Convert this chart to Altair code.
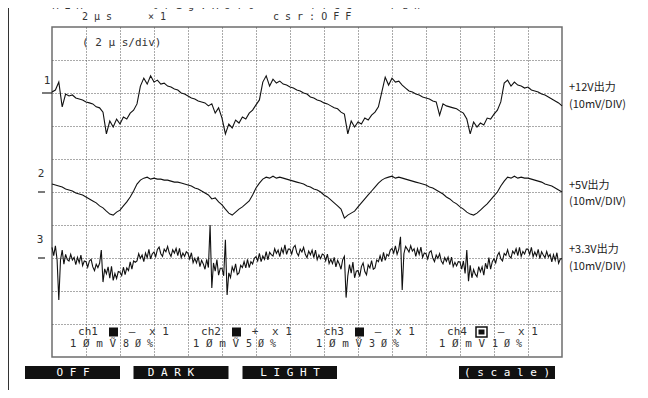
import altair as alt
import pandas as pd

# ---------------- data ----------------
MV_PER_DIV = 10              # 10 mV/DIV on every channel
CH_NAMES = ["1", "2", "3"]
CH_POS_PCT = [80, 50, 30]    # ground-marker position, % of screen height
CH_SAMPLE_US = [0.2, 0.2, 0.1]  # sample spacing of each stored trace (us)

CH1_MV = [0.3, 0.9, 3.3, -4.2, -0.3, -0.9, -0.6, -1.5, -1.8, -2.1,
          -2.7, -3.0, -3.3, -4.2, -4.5, -5.8, -12.4, -8.5, -10.3, -7.9,
          -9.4, -7.3, -7.9, -6.1, -5.2, -3.3, 2.1, 4.5, 2.7, 5.2,
          3.3, 3.9, 2.7, 3.0, 2.1, 1.8, 1.2, 0.9, 0.0, -0.3,
          -0.9, -1.5, -1.8, -2.4, -2.7, -3.0, -3.9, -3.3, -6.1, -4.5,
          -7.6, -12.4, -9.4, -10.6, -8.2, -9.1, -7.3, -7.9, -6.1, -5.2,
          -3.6, -2.1, 3.3, 5.2, 2.1, 4.2, 3.0, 3.6, 2.7, 2.4,
          1.8, 1.5, 0.9, 0.6, 0.0, -0.3, -1.2, -1.5, -2.1, -2.4,
          -3.0, -3.3, -3.9, -4.5, -4.8, -5.8, -6.4, -12.4, -8.5, -10.3,
          -8.8, -9.4, -7.6, -8.2, -6.7, -5.8, -4.2, 0.3, 4.8, 2.4,
          4.5, 3.3, 3.6, 2.4, 1.5, 0.6, 0.3, -0.3, -0.6, -1.2,
          -1.5, -1.8, -2.4, -2.7, -6.7, -3.3, -3.9, -4.2, -4.5, -4.8,
          -5.5, -6.1, -7.9, -12.4, -8.8, -10.3, -9.1, -9.7, -7.6, -7.9,
          -6.4, -5.2, -2.7, 3.0, 3.9, 2.1, 3.3, 2.4, 2.1, 1.5,
          1.8, 0.9, 0.6, 0.3, -0.3, -0.6, -1.2, -1.8, -2.4, -3.0,
          -3.9]

CH2_MV = [2.4, 2.1, 1.8, 1.5, 0.9, 0.6, 0.3, -0.3, -0.6, -0.9,
          -1.5, -2.1, -2.7, -3.3, -4.2, -4.8, -5.8, -6.7, -7.0, -6.1,
          -5.5, -4.2, -3.0, -1.5, 0.3, 2.4, 3.6, 4.2, 4.5, 3.9,
          4.2, 3.9, 3.9, 3.6, 3.6, 3.3, 3.0, 3.0, 2.7, 2.4,
          2.1, 1.8, 1.2, 0.9, 0.3, -0.3, -0.9, -2.1, -1.8, -3.0,
          -3.9, -5.2, -6.4, -7.0, -6.1, -5.2, -4.5, -3.6, -2.7, -0.9,
          1.2, 2.7, 3.9, 4.5, 4.2, 4.8, 4.2, 4.5, 4.2, 3.9,
          3.6, 3.3, 3.0, 2.7, 2.4, 1.8, 1.5, 0.9, 0.6, 0.0,
          -0.9, -1.5, -2.4, -3.3, -4.2, -5.2, -7.9, -7.0, -6.4, -5.8,
          -4.5, -3.3, -2.1, -0.9, 0.3, 1.5, 2.7, 3.6, 4.2, 4.5,
          4.8, 4.2, 4.5, 4.2, 3.9, 3.6, 3.3, 3.0, 2.7, 2.4,
          2.1, 1.5, 1.2, 0.6, 0.0, -0.6, -1.5, -2.1, -3.0, -3.6,
          -4.5, -5.2, -6.1, -6.7, -7.0, -6.4, -5.5, -4.5, -3.6, -2.4,
          -1.2, 0.0, 1.8, 3.3, 4.5, 4.2, 4.8, 4.2, 4.5, 4.2,
          4.2, 3.9, 3.6, 3.3, 3.0, 2.4, 2.1, 1.8, 1.2, 0.6,
          0.0]

CH3_MV = [3.2, 0.7, 3.7, -0.6, -12.7, -0.6, 2.4, -1.9, 1.1, -0.5,
          -0.9, 1.1, -0.6, 0.2, -2.0, 0.2, -1.4, 0.9, -2.3, -0.9,
          -1.1, -2.8, -0.9, -0.4, -2.7, -3.8, -1.9, -2.9, -1.6, 2.4,
          -7.3, -3.3, -4.8, -2.7, -6.1, -2.5, -6.8, -4.7, -6.2, -4.1,
          -4.3, -5.3, -2.8, -5.0, -3.0, -3.8, -1.2, -3.4, -0.9, -1.3,
          -0.9, 1.3, -0.1, 0.9, -1.1, 1.5, 0.1, 2.6, -0.3, 1.3,
          1.8, 0.4, 2.6, 3.3, 1.3, 0.5, 2.7, 1.9, 3.5, 1.5,
          0.5, 2.5, 1.5, 2.9, 0.7, 2.9, 0.1, 1.5, 0.5, 1.9,
          1.4, -0.3, 1.6, -1.4, -0.1, -1.5, 0.4, -2.6, -0.7, -1.8,
          -3.4, -0.4, -2.9, 10.0, -9.1, -1.5, -4.0, -0.5, -5.2, -3.1,
          -3.1, -5.4, 5.5, -11.2, -4.5, -5.9, -2.7, -4.1, -1.8, -5.0,
          -4.5, -2.2, -2.9, -1.1, -3.0, -0.4, -2.9, -1.1, -1.8, -0.1,
          0.4, -0.9, 1.4, -1.1, 0.6, -0.4, 1.9, -0.6, 1.7, 1.0,
          0.6, 2.8, 1.4, 2.4, 0.4, 2.9, 1.5, 4.0, 1.1, 2.7,
          2.7, 1.2, 3.2, 3.8, 1.6, 0.7, 2.7, 1.8, 3.2, 1.1,
          0.1, 2.1, 1.0, 2.4, 0.1, 2.4, -0.5, 0.9, -0.2, 1.2,
          0.9, -0.8, 1.2, -1.7, -0.4, -1.7, 0.2, -2.7, -0.7, -1.8,
          -3.4, -0.5, 0.5, -12.0, -5.4, -2.0, -4.6, -1.2, -6.0, -4.0,
          -3.8, -5.6, -2.6, -1.5, -4.1, -5.1, -2.1, -3.0, -0.8, -3.4,
          -3.0, -0.6, -1.1, 0.7, -1.1, 1.7, -0.7, 1.1, 0.6, 2.4,
          2.9, 1.5, 3.7, 1.1, 2.7, 6.4, -9.7, 1.3, 3.5, 2.7,
          1.8, 3.7, 2.1, 2.8, 0.5, 2.8, 1.1, 3.3, 0.2, 1.5,
          1.3, -0.3, 1.7, 2.2, 0.0, -1.1, 0.9, -0.1, 1.3, -0.9,
          -1.8, 0.1, -1.0, 0.3, -2.0, 0.3, -2.6, -1.3, -2.4, -1.1,
          -1.2, -3.4, -0.9, -4.7, 2.4, -7.0, -2.2, -6.0, -3.5, -4.9,
          -5.7, -2.6, -4.2, -2.7, -5.2, -1.6, -3.3, 0.1, -3.4, -1.1,
          -0.2, -1.5, 0.8, 1.7, -0.2, -0.9, 1.4, 0.8, 2.5, 0.6,
          0.0, 2.1, 1.3, 2.8, 0.7, 3.2, 0.5, 2.0, 1.2, 2.7,
          2.7, 1.1, 3.2, 0.4, 1.8, 0.6, 2.6, -0.2, 1.9, 0.9,
          0.1, 2.0, 0.3, 1.1, -1.2, 1.0, -0.7, 1.6, -1.6, -0.3,
          -0.2]

RIGHT_LABELS = [("+12V出力", "(10mV/DIV)"), ("+5V出力", "(10mV/DIV)"), ("+3.3V出力", "(10mV/DIV)")]
BOTTOM_CH = ["ch1", "ch2", "ch3", "ch4"]
BOTTOM_SOLID = [True, True, True, False]   # ch4 shows an outlined square
BOTTOM_SIGN = ["–", "+", "–", "–"]
BOTTOM_VOLT = ["1 Ø m Ṽ", "1 Ø m Ṽ", "1 Ø m Ṽ", "1 Ø m V"]
BOTTOM_PCT = ["8 Ø %", "5 Ø %", "3 Ø %", "1 Ø %"]
BUTTONS = ["O F F", "D A R K", "L I G H T", "( s c a l e )"]

# ---------------- build table ----------------
rows = []
for name, vals, pct, dt in zip(CH_NAMES, [CH1_MV, CH2_MV, CH3_MV], CH_POS_PCT, CH_SAMPLE_US):
    for i, v in enumerate(vals):
        rows.append({"t": round(i * dt, 3), "mv": v, "ch": name,
                     "pos": pct / 10 + v / MV_PER_DIV})
df = pd.DataFrame(rows)
ONE = pd.DataFrame({"k": [0]})

MONO = "DejaVu Sans Mono"
CJK = "Noto Sans CJK JP"
INK = "#333333"
OX, OY = 52, 27   # page position of the plot origin

x_enc = alt.X("t:Q", scale=alt.Scale(domain=[0, 30], nice=False, zero=False),
              axis=alt.Axis(values=list(range(2, 30, 2)), grid=True, gridDash=[1, 2],
                            gridColor="#555555", gridWidth=1, labels=False, ticks=False,
                            domain=False, title=None))
y_enc = alt.Y("pos:Q", scale=alt.Scale(domain=[0, 10], nice=False, zero=False),
              axis=alt.Axis(values=list(range(1, 10)), grid=True, gridDash=[1, 2],
                            gridColor="#555555", gridWidth=1, labels=False, ticks=False,
                            domain=False, title=None))

traces = alt.Chart(df).mark_line(color="#111111", strokeWidth=1.1).encode(
    x=x_enc, y=y_enc, detail="ch:N")

layers = [traces]


def txt(s, px, py, size=11, font=MONO, color=INK, align="left", baseline="middle"):
    return alt.Chart(ONE).mark_text(text=s, font=font, fontSize=size, color=color,
                                    align=align, baseline=baseline).encode(
        x=alt.value(px - OX), y=alt.value(py - OY))


def rule(x1, x2, y1, y2, color="#222222", w=1.0):
    return alt.Chart(ONE).mark_rule(color=color, strokeWidth=w).encode(
        x=alt.value(x1 - OX), x2=alt.value(x2 - OX), y=alt.value(y1 - OY), y2=alt.value(y2 - OY))


def rect(x1, x2, y1, y2, color="#111111", filled=True):
    if filled:
        m = alt.Chart(ONE).mark_rect(color=color)
    else:
        m = alt.Chart(ONE).mark_rect(fill="#ffffff", stroke=color, strokeWidth=1.5)
    return m.encode(x=alt.value(x1 - OX), x2=alt.value(x2 - OX),
                    y=alt.value(y1 - OY), y2=alt.value(y2 - OY))


# left page border line
layers.append(rule(8.5, 8.5, 8, 390, color="#333333", w=1))

# header (top line is cut by the page edge in the original)
for s, px in [("*", 26), ("M E M", 52.5), ("*", 92), ("t r i g : A U T O", 152),
              ("f r e e", 310), ("r u n", 390)]:
    layers.append(txt(s, px, 9, size=10, baseline="alphabetic"))
for s, px in [("2 μ s", 82), ("× 1", 148), ("c s r : O F F", 273)]:
    layers.append(txt(s, px, 16.5, size=10))
layers.append(txt("( 2 μ s/div)", 82, 43))

# channel numbers and ground markers
for s, px, py in [("1", 47, 81), ("2", 41, 174), ("3", 40, 240)]:
    layers.append(txt(s, px, py, align="center"))
layers.append(rule(42, 52, 93, 93, w=1.2))
layers.append(rule(38, 45, 192, 192, w=1.2))
layers.append(rule(38, 45, 258, 258, w=1.2))

# right labels
for (a, b), py in zip(RIGHT_LABELS, [88, 185.5, 250]):
    layers.append(txt(a, 569, py, size=11, font=CJK, color="#222222"))
    layers.append(txt(b, 569, py + 16.5, size=11, font=CJK, color="#222222"))

# channel settings rows inside the screen
for k, bx in enumerate([88, 211, 334, 457]):
    layers.append(txt(BOTTOM_CH[k], bx, 332, align="center"))
    if BOTTOM_SOLID[k]:
        layers.append(rect(bx + 21, bx + 30, 327.5, 336.5))
    else:
        layers.append(rect(bx + 19, bx + 30, 327, 337, filled=False))
        layers.append(rect(bx + 21.5, bx + 27.5, 329.5, 334.5))
    layers.append(txt(BOTTOM_SIGN[k], bx + 44, 332, align="center"))
    layers.append(txt("x 1", bx + 71, 332, align="center"))
    layers.append(txt(BOTTOM_VOLT[k], bx + 5, 344, align="center"))
    layers.append(txt(BOTTOM_PCT[k], bx + 50, 344, size=10, align="center"))

# soft-key buttons
for s, (x1, x2), cx in zip(BUTTONS, [(25, 120), (133.5, 228.5), (242.5, 337), (459, 555)],
                           [73, 171, 290, 507]):
    layers.append(rect(x1, x2, 366, 379))
    layers.append(txt(s, cx, 372.5, align="center", color="#ffffff"))

chart = alt.layer(*layers).properties(
    width=510, height=330,
    padding={"left": 44, "top": 19, "right": 78, "bottom": 33},
    autosize=alt.AutoSizeParams(type="none"),
).configure_view(stroke="#6e6e6e", strokeWidth=1.5)

chart.save("out.html", embed_options={"renderer": "svg", "actions": False})
